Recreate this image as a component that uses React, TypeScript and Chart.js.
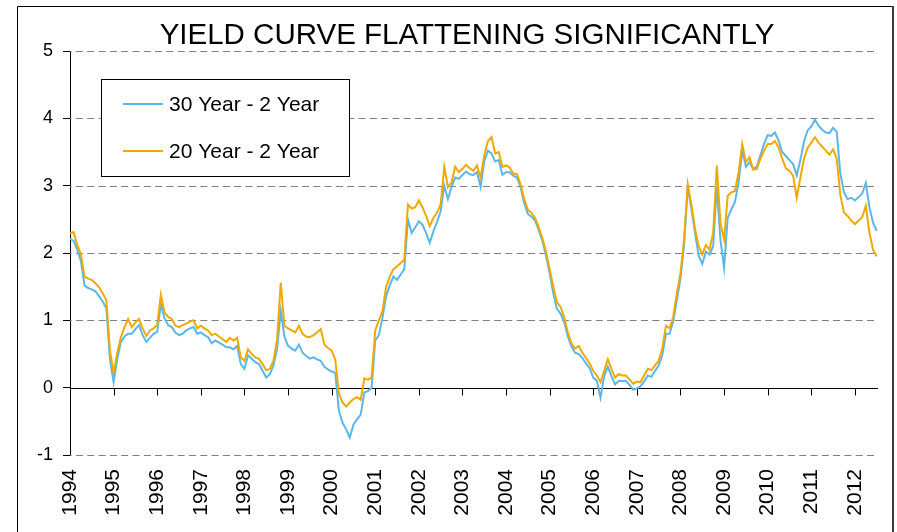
import { useEffect, useRef } from "react";
import { Chart, registerables } from "chart.js";

Chart.register(...registerables);

const START_YEAR = 1994;

// Monthly spread observations (percentage points), Jan 1994 - Jul 2012
const spread30y2y = [
  2.21, 2.18, 2.05, 1.88, 1.52, 1.48, 1.46, 1.43, 1.36, 1.28, 1.18, 0.42,
  0.08, 0.42, 0.68, 0.76, 0.8, 0.8, 0.87, 0.93, 0.78, 0.68, 0.74, 0.8,
  0.83, 1.24, 1.03, 0.93, 0.9, 0.82, 0.78, 0.8, 0.85, 0.88, 0.9, 0.8,
  0.82, 0.78, 0.75, 0.66, 0.7, 0.67, 0.64, 0.6, 0.6, 0.57, 0.62, 0.35,
  0.28, 0.48, 0.43, 0.38, 0.35, 0.25, 0.15, 0.2, 0.33, 0.58, 1.14, 0.76,
  0.62, 0.58, 0.55, 0.64, 0.52, 0.47, 0.43, 0.45, 0.42, 0.4, 0.31, 0.27,
  0.24, 0.22, -0.34, -0.52, -0.62, -0.74, -0.55, -0.47, -0.4, -0.07, -0.05, 0.0,
  0.7, 0.78, 1.04, 1.36, 1.52, 1.65, 1.6, 1.68, 1.76, 2.5, 2.3, 2.38,
  2.47, 2.42, 2.3, 2.15, 2.32, 2.46, 2.62, 3.0, 2.8, 2.98, 3.12, 3.1,
  3.16, 3.21, 3.17, 3.16, 3.2, 2.98, 3.36, 3.52, 3.48, 3.36, 3.38, 3.16,
  3.2, 3.2, 3.15, 3.12, 2.98, 2.74, 2.58, 2.54, 2.48, 2.34, 2.18, 1.96,
  1.7, 1.4, 1.17, 1.1, 0.97, 0.76, 0.61, 0.52, 0.5, 0.44, 0.36, 0.29,
  0.15, 0.1, -0.15, 0.17, 0.31, 0.17, 0.05, 0.1, 0.1, 0.1, 0.04, -0.03,
  -0.01, 0.02, 0.09, 0.18, 0.16, 0.25, 0.33, 0.48, 0.8, 0.8, 0.98, 1.3,
  1.62, 2.12, 2.98, 2.66, 2.3, 1.96, 1.84, 2.02, 1.98, 2.1, 2.98, 2.2,
  1.78, 2.52, 2.65, 2.76, 3.05, 3.52, 3.28, 3.35, 3.25, 3.28, 3.45, 3.62,
  3.75, 3.74, 3.79, 3.67, 3.5, 3.44, 3.38, 3.32, 3.15, 3.38, 3.66, 3.82,
  3.88, 3.98, 3.89, 3.83, 3.79, 3.78, 3.86, 3.8, 3.18, 2.9, 2.8, 2.82,
  2.78, 2.83, 2.88, 3.04, 2.68, 2.45, 2.33,
];

const spread20y2y = [
  2.29, 2.31, 2.12, 1.98, 1.65, 1.62, 1.6, 1.55, 1.49, 1.4, 1.3, 0.55,
  0.22, 0.52, 0.75, 0.9, 1.02, 0.9, 0.97, 1.02, 0.88, 0.77, 0.85, 0.88,
  0.93, 1.38, 1.12, 1.05, 1.02, 0.92, 0.9, 0.93, 0.95, 0.98, 1.0, 0.88,
  0.92, 0.88, 0.85, 0.78, 0.8, 0.76, 0.72, 0.68, 0.74, 0.7, 0.74, 0.45,
  0.4, 0.57, 0.5, 0.45, 0.43, 0.35, 0.26, 0.28, 0.4, 0.72, 1.56, 0.92,
  0.88, 0.85, 0.82, 0.92, 0.8, 0.76, 0.75, 0.78, 0.82, 0.87, 0.64, 0.59,
  0.55, 0.42, -0.09, -0.22, -0.28, -0.22, -0.17, -0.14, -0.18, 0.14, 0.12, 0.15,
  0.85, 1.0, 1.14, 1.5, 1.65, 1.76, 1.8, 1.85, 1.9, 2.72, 2.66, 2.68,
  2.78, 2.68, 2.55, 2.4, 2.52, 2.6, 2.72, 3.28, 2.98, 3.05, 3.28, 3.2,
  3.25, 3.31, 3.26, 3.22, 3.3, 3.12, 3.45, 3.66, 3.72, 3.48, 3.5, 3.28,
  3.3, 3.27, 3.18, 3.17, 3.02, 2.8, 2.64, 2.6, 2.52, 2.38, 2.22, 2.02,
  1.76, 1.5, 1.27, 1.2, 1.05, 0.82, 0.66, 0.58, 0.62, 0.52, 0.44, 0.36,
  0.25, 0.18, 0.08, 0.25, 0.42, 0.28, 0.15, 0.2, 0.18, 0.18, 0.12, 0.06,
  0.09, 0.08, 0.18, 0.28, 0.26, 0.33, 0.4, 0.58, 0.92, 0.88, 1.05, 1.4,
  1.7, 2.2, 3.02, 2.72, 2.36, 2.1, 1.98, 2.12, 2.05, 2.3, 3.3, 2.45,
  2.2, 2.85, 2.9, 2.92, 3.2, 3.62, 3.35, 3.42, 3.24, 3.25, 3.4, 3.52,
  3.62, 3.62, 3.66, 3.57, 3.4, 3.26, 3.22, 3.15, 2.82, 3.12, 3.4, 3.56,
  3.64, 3.72, 3.64, 3.58, 3.52, 3.46, 3.54, 3.4, 2.86, 2.6, 2.55, 2.48,
  2.43, 2.48, 2.53, 2.7, 2.3, 2.05, 1.95,
];

const yearTicks = [
  1994, 1995, 1996, 1997, 1998, 1999, 2000, 2001, 2002, 2003,
  2004, 2005, 2006, 2007, 2008, 2009, 2010, 2011, 2012,
];
const valueTicks = [-1, 0, 1, 2, 3, 4, 5];
const seriesNames = ["30 Year - 2 Year", "20 Year - 2 Year"];
const titleText = "YIELD CURVE FLATTENING SIGNIFICANTLY";

// x position of each monthly observation, in fractional years
const monthPositions = spread30y2y.map((_, i) => START_YEAR + i / 12);

const FONT = "'Liberation Sans', Arial, sans-serif";
const BLUE = "#5db7e6";
const ORANGE = "#f0a900";

const chartDecor = {
  id: "chartDecor",
  beforeDraw(chart: any) {
    const { ctx, width, height } = chart;
    ctx.save();
    ctx.fillStyle = "#ffffff";
    ctx.fillRect(0, 0, width, height);
    // outer frame
    ctx.strokeStyle = "#000";
    ctx.lineWidth = 1;
    ctx.beginPath();
    ctx.moveTo(17.5, height);
    ctx.lineTo(17.5, 6.5);
    ctx.lineTo(892, 6.5);
    ctx.stroke();
    ctx.strokeStyle = "#3a3a3a";
    ctx.lineWidth = 2;
    ctx.beginPath();
    ctx.moveTo(893, 6);
    ctx.lineTo(893, height);
    ctx.stroke();
    ctx.restore();
  },
  beforeDatasetsDraw(chart: any) {
    const { ctx, chartArea, scales } = chart;
    const xs = scales.x;
    const ys = scales.y;
    ctx.save();
    // dashed horizontal gridlines
    ctx.strokeStyle = "#808080";
    ctx.lineWidth = 1;
    ctx.setLineDash([7, 4.3]);
    ctx.lineDashOffset = -6;
    for (const v of valueTicks) {
      if (v === 0) continue;
      const py = Math.round(ys.getPixelForValue(v)) + 0.5;
      ctx.beginPath();
      ctx.moveTo(chartArea.left, py);
      ctx.lineTo(chartArea.right, py);
      ctx.stroke();
    }
    // zero line acting as the category axis, with year tick marks
    ctx.setLineDash([]);
    ctx.strokeStyle = "#000";
    const p0 = Math.round(ys.getPixelForValue(0)) + 0.5;
    ctx.beginPath();
    ctx.moveTo(chartArea.left, p0);
    ctx.lineTo(chartArea.right, p0);
    for (const yr of yearTicks) {
      const px = Math.round(xs.getPixelForValue(yr)) + 0.5;
      ctx.moveTo(px, p0);
      ctx.lineTo(px, p0 + 7);
    }
    ctx.stroke();
    ctx.restore();
  },
  afterDraw(chart: any) {
    const { ctx } = chart;
    ctx.save();
    // title
    ctx.fillStyle = "#000";
    ctx.font = `29.5px ${FONT}`;
    ctx.textAlign = "center";
    ctx.textBaseline = "alphabetic";
    ctx.fillText(titleText, 467, 44);

    // legend box
    ctx.fillStyle = "#fff";
    ctx.fillRect(101, 79, 248, 97);
    ctx.strokeStyle = "#000";
    ctx.lineWidth = 1;
    ctx.strokeRect(101.5, 79.5, 248, 97);
    ctx.font = `21px ${FONT}`;
    ctx.textAlign = "left";
    const order = [0, 1];
    order.forEach((di, row) => {
      const ds = chart.data.datasets[di];
      const ly = 104 + row * 47;
      ctx.strokeStyle = ds.borderColor;
      ctx.lineWidth = 2;
      ctx.beginPath();
      ctx.moveTo(123, ly);
      ctx.lineTo(163, ly);
      ctx.stroke();
      ctx.fillStyle = "#000";
      ctx.fillText(ds.label, 169, ly + 7);
    });
    ctx.restore();
  },
};

export default function App() {
  const canvasRef = useRef<HTMLCanvasElement>(null);

  useEffect(() => {
    const canvas = canvasRef.current;
    if (!canvas) return;
    const chart = new Chart(canvas, {
      type: "line",
      data: {
        datasets: [
          {
            label: seriesNames[0],
            data: monthPositions.map((x, i) => ({ x, y: spread30y2y[i] })),
            borderColor: BLUE,
            borderWidth: 2,
            pointRadius: 0,
            tension: 0,
            order: 1,
          },
          {
            label: seriesNames[1],
            data: monthPositions.map((x, i) => ({ x, y: spread20y2y[i] })),
            borderColor: ORANGE,
            borderWidth: 2,
            pointRadius: 0,
            tension: 0,
            order: 0,
          },
        ],
      },
      options: {
        responsive: false,
        animation: false,
        layout: { padding: { left: 0, right: 19, top: 51, bottom: 0 } },
        plugins: {
          legend: { display: false },
          title: { display: false },
          tooltip: { enabled: false },
        },
        scales: {
          x: {
            type: "linear",
            position: "bottom",
            min: 1994,
            max: 2012.53,
            grid: { display: false, drawTicks: false, tickLength: 0 },
            border: { display: false },
            afterBuildTicks: (s: any) => {
              s.ticks = yearTicks.map((v) => ({ value: v }));
            },
            afterFit: (s: any) => {
              s.height = 77;
            },
            ticks: {
              autoSkip: false,
              minRotation: 90,
              maxRotation: 90,
              padding: 14,
              color: "#000",
              font: { family: FONT, size: 21 },
              callback: (v: any) => String(v),
            },
          },
          y: {
            type: "linear",
            min: -1,
            max: 5,
            afterBuildTicks: (s: any) => {
              s.ticks = valueTicks.map((v) => ({ value: v }));
            },
            afterFit: (s: any) => {
              s.width = 70;
            },
            grid: {
              display: true,
              drawOnChartArea: false,
              drawTicks: true,
              tickLength: 7,
              color: "#000",
              lineWidth: 1,
            },
            border: { display: true, color: "#000", width: 1 },
            ticks: {
              padding: 10,
              color: "#000",
              font: { family: FONT, size: 18 },
              callback: (v: any) => String(v),
            },
          },
        },
      },
      plugins: [chartDecor],
    });
    return () => chart.destroy();
  }, []);

  return (
    <div
      style={{
        position: "fixed",
        left: 0,
        top: 0,
        width: 897,
        height: 532,
        background: "#fff",
      }}
    >
      <canvas
        ref={canvasRef}
        width={897}
        height={532}
        style={{ display: "block" }}
      />
    </div>
  );
}
